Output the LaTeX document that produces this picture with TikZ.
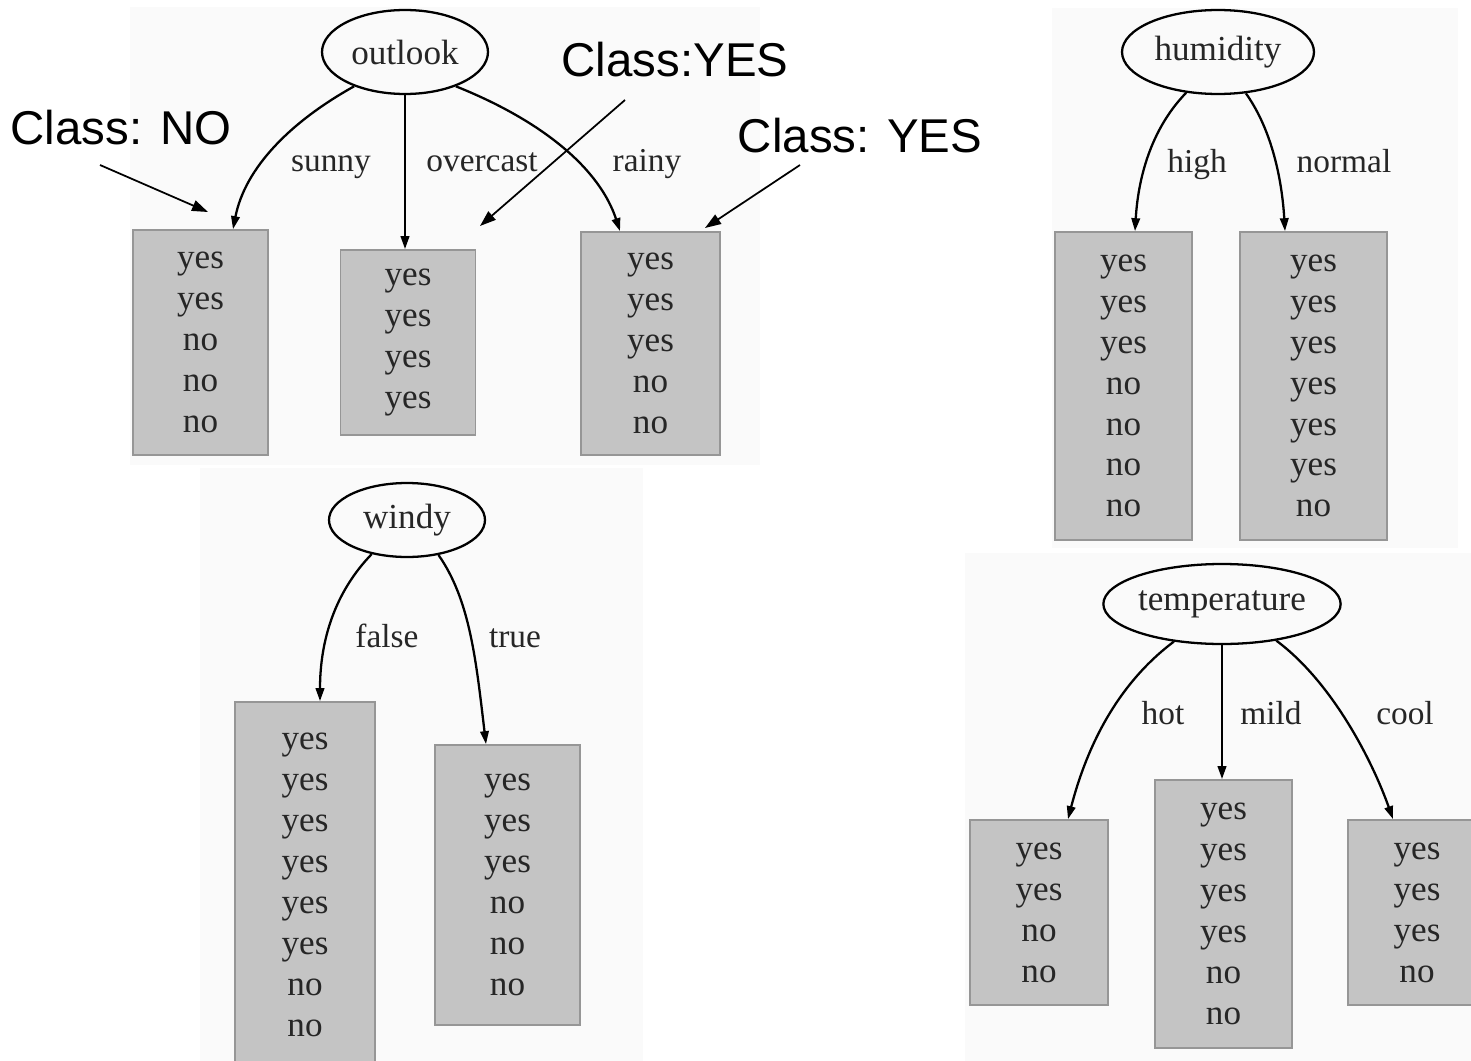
\documentclass[tikz,border=0pt]{standalone}
\usepackage{fontspec}
\setmainfont{Liberation Serif}
\newfontfamily\arialfont{Liberation Sans}
\usepackage{xcolor}
\usepackage{tikz}
\usetikzlibrary{shapes.geometric, arrows.meta}

\definecolor{leafgray}{RGB}{196,196,196}
\definecolor{leafedge}{RGB}{150,150,150}
\definecolor{panelgray}{RGB}{250,250,250}

\tikzset{
  test/.style={draw, ellipse, line width=1.3pt, inner sep=0pt, text=black!85,
    font=\fontsize{20}{24}\selectfont},
  leaf/.style={draw=leafedge, fill=leafgray, line width=1pt, inner sep=0pt,
    align=center, text=black!85, font=\fontsize{20}{23.3}\selectfont},
  branch/.style={line width=1.3pt, -{Triangle[length=0.26cm,width=0.17cm]}},
  edgelabel/.style={anchor=base, text=black!85, font=\fontsize{19}{22}\selectfont},
  classlabel/.style={font=\fontsize{27}{30}\arialfont},
  note/.style={line width=1pt, -{Triangle[length=0.32cm,width=0.22cm]}}
}

\begin{document}
\begin{tikzpicture}[x=0.02cm, y=-0.02cm]
        \useasboundingbox (0,0) rectangle (1471,1061);
        % Fonds des captures
        \fill[panelgray] (130,7) rectangle (760,465);
        \fill[panelgray] (1052,8) rectangle (1458,548);
        \fill[panelgray] (200,468) rectangle (643,1061);
        \fill[panelgray] (965,553) rectangle (1471,1061);

        % Arbre outlook
        \node[test, minimum width=3.32cm, minimum height=1.68cm] (outlook) at (405,52) {outlook};
        \node[leaf, minimum width=2.7cm, minimum height=4.5cm] (sunny) at (200.5,342.5) {yes\\yes\\no\\no\\no};
        \node[leaf, minimum width=2.7cm, minimum height=3.7cm] (overcast) at (408,342.5) {yes\\yes\\yes\\yes};
        \node[leaf, minimum width=2.78cm, minimum height=4.46cm] (rainy) at (650.5,343.5) {yes\\yes\\yes\\no\\no};
        \draw[branch] (outlook.214) .. controls (290,122) and (245,168) .. ([xshift=0.65cm]sunny.north);
        \draw[branch] (outlook.south) -- (outlook.south |- overcast.north);
        \draw[branch] (outlook.326) .. controls (545,122) and (600,170) .. ([xshift=-0.61cm]rainy.north);
        \node[edgelabel] (lsunny) at (331,172) {sunny};
        \node[edgelabel] (lovercast) at (482,172) {overcast};
        \node[edgelabel] (lrainy) at (647,172) {rainy};

        % Arbre humidity
        \node[test, minimum width=3.84cm, minimum height=1.68cm] (humidity) at (1218,52) {humidity};
        \node[leaf, minimum width=2.74cm, minimum height=6.16cm] (high) at (1123.5,386) {yes\\yes\\yes\\no\\no\\no\\no};
        \node[leaf, minimum width=2.94cm, minimum height=6.16cm] (normal) at (1313.5,386) {yes\\yes\\yes\\yes\\yes\\yes\\no};
        \draw[branch] (humidity.232) .. controls (1150,130) and (1138,180) .. ([xshift=0.23cm]high.north);
        \draw[branch] (humidity.304) .. controls (1272,130) and (1282,180) .. ([xshift=-0.57cm]normal.north);
        \node[edgelabel] (lhigh) at (1197,173) {high};
        \node[edgelabel] (lnormal) at (1344,173) {normal};

        % Arbre windy
        \node[test, minimum width=3.12cm, minimum height=1.48cm] (windy) at (407,520) {windy};
        \node[leaf, minimum width=2.8cm, minimum height=7.32cm] (false) at (305,885) {yes\\yes\\yes\\yes\\yes\\yes\\no\\no};
        \node[leaf, minimum width=2.9cm, minimum height=5.6cm] (true) at (507.5,885) {yes\\yes\\yes\\no\\no\\no};
        \draw[branch] (windy.224) .. controls (335,592) and (320,640) .. ([xshift=0.3cm]false.north);
        \draw[branch] (windy.312) .. controls (470,600) and (476,660) .. ([xshift=-0.43cm]true.north);
        \node[edgelabel] (lfalse) at (387,647) {false};
        \node[edgelabel] (ltrue) at (515,647) {true};

        % Arbre temperature
        \node[test, minimum width=4.56cm, minimum height=1.6cm] (temperature) at (1222,604) {temperature};
        \node[leaf, minimum width=2.76cm, minimum height=3.7cm] (hot) at (1039,912.5) {yes\\yes\\no\\no};
        \node[leaf, minimum width=2.74cm, minimum height=5.36cm] (mild) at (1223.5,914) {yes\\yes\\yes\\yes\\no\\no};
        \node[leaf, minimum width=2.76cm, minimum height=3.7cm] (cool) at (1417,912.5) {yes\\yes\\yes\\no};
        \draw[branch] (temperature.218) .. controls (1120,682) and (1088,742) .. ([xshift=0.58cm]hot.north);
        \draw[branch] (temperature.south) -- (temperature.south |- mild.north);
        \draw[branch] (temperature.326) .. controls (1332,682) and (1372,760) .. ([xshift=-0.48cm]cool.north);
        \node[edgelabel] (lhot) at (1163,724) {hot};
        \node[edgelabel] (lmild) at (1271,724) {mild};
        \node[edgelabel] (lcool) at (1405,724) {cool};

        % Annotations
        \node[classlabel] (classno) at (121,128) {Class: NO};
        \node[classlabel] (classyes) at (675,60) {Class:YES};
        \node[classlabel] (classyes2) at (860,136) {Class: YES};
        \coordinate (notail) at (100,165);
        \coordinate (notip) at (208,212);
        \coordinate (yestail) at (625,100);
        \coordinate (yestip) at (480,226);
        \coordinate (yes2tail) at (800,165);
        \coordinate (yes2tip) at (705,228);
        \draw[note] (notail) -- (notip);
        \draw[note] (yestail) -- (yestip);
        \draw[note] (yes2tail) -- (yes2tip);
    \end{tikzpicture}
\end{document}
